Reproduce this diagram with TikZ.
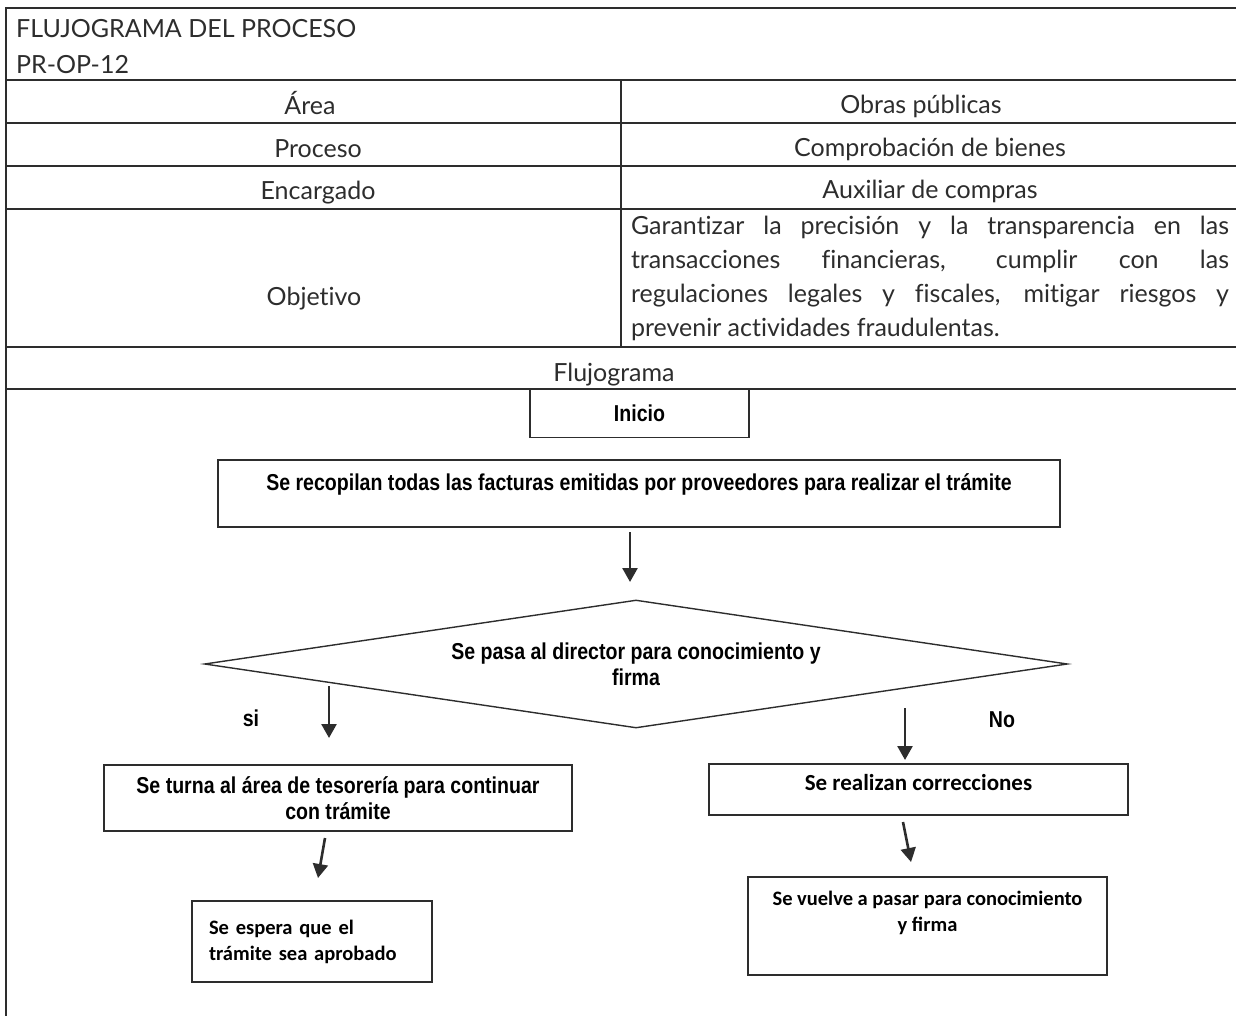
\documentclass[tikz,border=0pt]{standalone}
\usepackage{fontspec}
\setmainfont{Lato}[Ligatures=NoCommon]
\newfontfamily\arialn[FakeStretch=0.85]{Liberation Sans}
\newfontfamily\calib{Carlito}
\usetikzlibrary{arrows.meta,shapes.geometric,positioning}

\definecolor{tinta}{RGB}{45,45,45}

\tikzset{
	linea/.style={line width=1.4pt, draw=tinta},
	celda/.style={font=\fontsize{25}{34}\selectfont, text=tinta, inner sep=0pt, anchor=base},
	caja/.style={draw=tinta, line width=1.4pt, inner sep=0pt, align=center, text=black},
	negrita/.style={font=\arialn\bfseries\fontsize{23}{26}\selectfont},
	calibri/.style={font=\calib\bfseries\fontsize{20.5}{26}\selectfont},
	flecha/.style={line width=2.6pt, draw=tinta, -{Triangle[width=15pt,length=14pt]}},
}

\begin{document}
\begin{tikzpicture}[x=1pt, y=-1pt]
	\useasboundingbox (0, 0) rectangle (1236, 1016);
	% Rahmen der Tabelle
	\draw[linea] (1236, 8) -- (6, 8) -- (6, 1016);
	\foreach \y in {80, 123, 166, 209, 347, 389}
		\draw[linea] (6, \y) -- (1236, \y);
	\draw[linea] (621, 80) -- (621, 347);

	% Kopfzeilen
	\node[celda, anchor=base west] (titulo) at (16, 38) {FLUJOGRAMA DEL PROCESO};
	\node[celda, anchor=base west] (codigo) at (16, 74) {PR-OP-12};
	\node[celda] (area) at (310, 115) {Área};
	\node[celda] (areaval) at (921, 114) {Obras públicas};
	\node[celda] (proceso) at (318, 158) {Proceso};
	\node[celda] (procesoval) at (930, 157) {Comprobación de bienes};
	\node[celda] (encargado) at (318, 200) {Encargado};
	\node[celda] (encargadoval) at (930, 199) {Auxiliar de compras};
	\node[celda] (objetivo) at (314, 305) {Objetivo};
	\node[celda, anchor=center, text width=598pt, align=justify] (objetivoval) at (930, 278)
		{Garantizar la precisión y la transparencia en las\linebreak
		transacciones financieras, cumplir con las\linebreak
		regulaciones legales y fiscales, mitigar riesgos y\linebreak
		prevenir actividades fraudulentas.};
	\node[celda] (flujo) at (614, 381) {Flujograma};

	% Flujograma
	\node[caja, negrita, minimum width=219pt, minimum height=49pt] (inicio) at (639.5, 413) {Inicio};
	\node[caja, negrita, minimum width=842pt, minimum height=67pt, text depth=22pt] (recopila) at (639, 493.5)
		{Se recopilan todas las facturas emitidas por proveedores para realizar el trámite};
	\node[caja, negrita, diamond, aspect=6.7, minimum width=863pt, minimum height=128pt] (director) at (636, 664)
		{Se pasa al director para conocimiento y\\firma};
	\node[caja, negrita, minimum width=468pt, minimum height=66pt] (tesoreria) at (338, 798)
		{Se turna al área de tesorería para continuar\\con trámite};
	\node[caja, calibri, minimum width=240pt, minimum height=81pt, text width=206pt, align=left] (espera) at (312, 941.5)
		{Se espera que el\\trámite sea aprobado};
	\node[caja, calibri, font=\calib\bfseries\fontsize{23}{26}\selectfont, minimum width=419pt, minimum height=51pt, text depth=14pt] (correcciones) at (918.5, 789.5)
		{Se realizan correcciones};
	\node[caja, calibri, minimum width=359pt, minimum height=98pt, text depth=30pt] (vuelve) at (927.5, 926)
		{Se vuelve a pasar para conocimiento\\y firma};

	% Beschriftungen
	\node[negrita, text=black] (si) at (251, 718) {si};
	\node[negrita, text=black] (no) at (1002, 720) {No};

	% Pfeile
	\coordinate (a1) at (630, 532);
	\coordinate (a2) at (630, 582);
	\coordinate (b1) at (329, 686);
	\coordinate (b2) at (329, 738);
	\coordinate (c1) at (905, 708);
	\coordinate (c2) at (905, 760);
	\coordinate (d1) at (325, 838);
	\coordinate (d2) at (318, 878);
	\coordinate (e1) at (903, 822);
	\coordinate (e2) at (911, 862);
	\draw[flecha] (a1) -- (a2);
	\draw[flecha] (b1) -- (b2);
	\draw[flecha] (c1) -- (c2);
	\draw[flecha] (d1) -- (d2);
	\draw[flecha] (e1) -- (e2);
\end{tikzpicture}
\end{document}
